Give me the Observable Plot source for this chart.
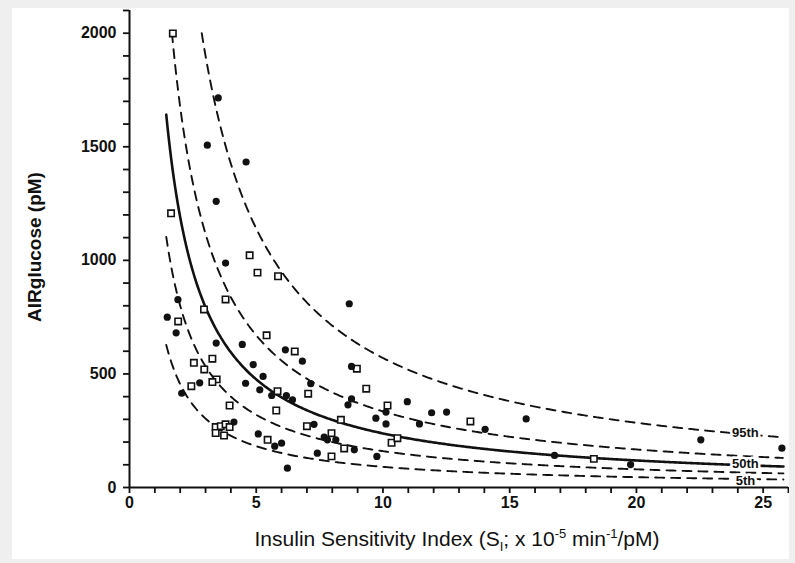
<!DOCTYPE html>
<html><head><meta charset="utf-8">
<script src="https://cdn.jsdelivr.net/npm/d3@7"></script>
<script src="https://cdn.jsdelivr.net/npm/@observablehq/plot@0.6"></script>
<style>
body{margin:0;background:#efefef;width:795px;height:563px;overflow:hidden;font-family:"Liberation Sans",Arial,sans-serif;color:#111;}
#panel{position:absolute;left:12px;top:8px;width:777px;height:551px;background:#fff;}
#chart{position:absolute;left:0;top:0;}
#ylab{position:absolute;left:22px;top:239px;transform:translate(-50%,-50%) rotate(-90deg);font-weight:bold;font-size:19px;white-space:nowrap;line-height:1;}
#xlab{position:absolute;left:445px;top:519px;transform:translateX(-50%);font-size:21px;white-space:nowrap;line-height:1;}
#xlab sub,#xlab sup{font-size:13px;}
</style></head>
<body>
<div id="panel">
  <div id="chart"></div>
  <div id="ylab">AIRglucose (pM)</div>
  <div id="xlab">Insulin Sensitivity Index (S<sub>I</sub>; x 10<sup>-5</sup> min<sup>-1</sup>/pM)</div>
</div>
<script>
// Filled circles (SI, AIRglucose)
const filledX = [3.50,3.07,4.60,3.42,3.79,8.67,1.91,1.49,1.84,3.42,4.45,6.15,6.82,4.88,8.76,5.27,2.77,4.58,7.15,5.14,5.61,6.19,6.43,2.06,8.76,8.62,10.12,9.72,10.12,7.28,4.12,5.08,5.73,6.00,6.23,7.68,7.81,8.14,8.87,7.41,9.76,10.96,11.92,12.51,11.44,14.03,15.65,16.77,19.77,22.54,25.74];
const filledY = [1715,1507,1433,1260,988,809,827,750,681,636,630,606,556,541,533,489,461,459,457,430,405,405,386,415,390,364,332,305,280,278,288,236,182,195,85,222,210,210,166,151,137,378,329,332,280,256,302,141,101,210,173];
// Open squares (SI, AIRglucose)
const openX = [1.71,1.64,4.74,5.05,5.86,3.79,2.94,1.92,5.41,6.52,3.27,2.54,2.95,8.97,3.44,3.27,2.44,9.34,5.84,7.05,10.18,3.95,5.79,8.34,7.00,3.40,3.60,3.79,3.95,3.40,3.73,5.45,7.97,8.47,7.97,10.34,10.57,13.45,18.32];
const openY = [1999,1207,1022,946,930,828,784,731,670,599,567,549,520,523,476,464,446,435,424,413,361,361,339,298,270,266,270,278,266,240,229,210,239,172,137,197,217,291,126];
// Percentile curves AIR = k / SI
const pctNames = ["5th","25th","50th","75th","95th"];
const pctCoef = [910,1600,2380,3350,5700];
const labeledPct = ["95th","50th","5th"];
const xTickLabels = [0,5,10,15,20,25];
const yTickLabels = [0,500,1000,1500,2000];

const filled = filledX.map((x,i)=>({x, y: filledY[i]}));
const open = openX.map((x,i)=>({x, y: openY[i]}));
const curves = [];
pctNames.forEach((name,i)=>{
  const k = pctCoef[i];
  const x0 = Math.max(1.45, k/2000);
  for (let x = x0; x <= 25.8 + 1e-9; x += 0.05) curves.push({name, x, y: k/x});
});
const labels = labeledPct.map(name => {
  const k = pctCoef[pctNames.indexOf(name)];
  return {name, x: 24.3, y: k/24.3};
});
const ink = "#111";
const W = 777, H = 520, ML = 117, MR = 1, MT = 2, MB = 41;
const FW = W - ML - MR, FH = H - MT - MB, TICK = 6;
const yTicks = d3.range(0, 2101, 100);
const xTicks = d3.range(0, 27, 1);
const labelStyle = {x: "x", y: "y", text: "name", fontSize: 13, fontWeight: "bold", fill: ink, stroke: "white", strokeWidth: 5, paintOrder: "stroke"};
const plot = Plot.plot({
  width: W, height: H,
  marginLeft: ML, marginRight: MR, marginTop: MT, marginBottom: MB,
  style: {fontFamily: "'Liberation Sans', Arial, sans-serif", fontSize: "16px", fontWeight: "bold", color: ink, background: "transparent"},
  x: {domain: [0, 26], label: null, axis: null},
  y: {domain: [0, 2100], label: null, axis: null},
  marks: [
    Plot.line(curves.filter(d => d.name !== "50th"), {x: "x", y: "y", z: "name", stroke: ink, strokeWidth: 1.9, strokeDasharray: "9,7"}),
    Plot.line(curves.filter(d => d.name === "50th"), {x: "x", y: "y", stroke: ink, strokeWidth: 2.6}),
    Plot.text(labels.filter(d => d.name !== "5th"), {...labelStyle, dy: -1}),
    Plot.text(labels.filter(d => d.name === "5th"), {...labelStyle, dy: 2}),
    Plot.dot(open, {x: "x", y: "y", symbol: "square", r: 3.6, fill: "white", stroke: ink, strokeWidth: 1.6}),
    Plot.dot(filled, {x: "x", y: "y", r: 3.6, fill: ink}),
    // y ticks (outside, left) and labels
    Plot.tickY(yTicks, {y: d => d, stroke: ink, strokeWidth: 1.8, insetLeft: -TICK, insetRight: FW}),
    Plot.text(yTickLabels, {y: d => d, text: d => String(d), frameAnchor: "left", dx: -13, textAnchor: "end", fill: ink, fontSize: 16, fontWeight: "bold"}),
    // x ticks (outside, below) and labels
    Plot.tickX(xTicks, {x: d => d, stroke: ink, strokeWidth: 1.8, insetTop: FH, insetBottom: -TICK}),
    Plot.text(xTickLabels, {x: d => d, text: d => String(d), frameAnchor: "bottom", dy: 20, fill: ink, fontSize: 16, fontWeight: "bold"}),
    Plot.ruleX([0], {stroke: ink, strokeWidth: 2}),
    Plot.ruleY([0], {stroke: ink, strokeWidth: 2})
  ]
});
document.getElementById("chart").appendChild(plot);
</script>
</body></html>
